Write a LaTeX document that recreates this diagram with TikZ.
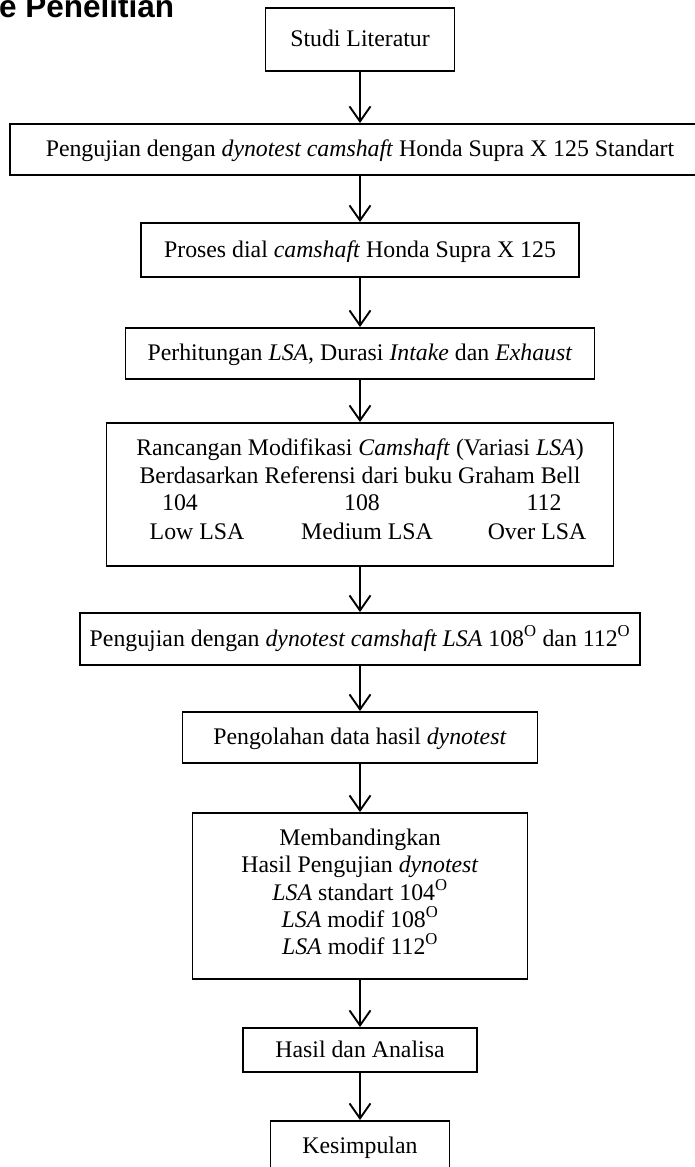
\documentclass[tikz,border=0pt]{standalone}
\usepackage{fontspec}
\setmainfont{Liberation Serif}
\newfontfamily\titlefont{Liberation Sans}
\usetikzlibrary{arrows.meta}
\tikzset{
  box/.style={draw, line width=1.9pt, inner sep=0pt, text height=17pt, text depth=3pt},
  plainbox/.style={draw, line width=1.9pt, inner sep=0pt},
  txt/.style={inner sep=0pt, anchor=base},
  arr/.style={line width=1.9pt, -{Straight Barb[length=15pt,width=21pt]}},
}
\begin{document}
\begin{tikzpicture}[x=1pt,y=-1pt,font=\fontsize{23.8pt}{27.4pt}\selectfont]
\useasboundingbox (0,0) rectangle (694,1167);
\node[anchor=base west, inner sep=0pt, font=\titlefont\bfseries\fontsize{31.5pt}{36pt}\selectfont] (title) at (-1,17.5) {e Penelitian};

\node[box, minimum width=189pt, minimum height=63pt] (b1) at (360,39.5) {Studi Literatur};
\node[box, minimum width=700pt, minimum height=51pt] (b2) at (360,149.5) {Pengujian dengan \textit{dynotest camshaft} Honda Supra X 125 Standart};
\node[box, minimum width=438pt, minimum height=54pt] (b3) at (360,250) {Proses dial \textit{camshaft} Honda Supra X 125};
\node[box, minimum width=469pt, minimum height=51pt] (b4) at (360,353.5) {Perhitungan \textit{LSA}, Durasi \textit{Intake} dan \textit{Exhaust}};

\node[plainbox, minimum width=507pt, minimum height=143pt] (b5) at (360,494.5) {};
\node[txt] (b5a) at (360,455) {Rancangan Modifikasi \textit{Camshaft} (Variasi \textit{LSA})};
\node[txt] (b5b) at (360,483) {Berdasarkan Referensi dari buku Graham Bell};
\node[txt] (b5c) at (180,510) {104};
\node[txt] (b5d) at (362,510) {108};
\node[txt] (b5e) at (544,510) {112};
\node[txt] (b5f) at (197,539) {Low LSA};
\node[txt] (b5g) at (367,539) {Medium LSA};
\node[txt] (b5h) at (537,539) {Over LSA};

\node[box, minimum width=560pt, minimum height=52pt] (b6) at (360,639) {Pengujian dengan \textit{dynotest camshaft LSA} 108\textsuperscript{O} dan 112\textsuperscript{O}};
\node[box, minimum width=355pt, minimum height=51pt] (b7) at (360,737.5) {Pengolahan data hasil \textit{dynotest}};

\node[plainbox, minimum width=335pt, minimum height=166pt] (b8) at (360,896) {};
\node[txt] (b8a) at (360,845) {Membandingkan};
\node[txt] (b8b) at (360,872) {Hasil Pengujian \textit{dynotest}};
\node[txt] (b8c) at (360,900) {\textit{LSA} standart 104\textsuperscript{O}};
\node[txt] (b8d) at (360,927) {\textit{LSA} modif 108\textsuperscript{O}};
\node[txt] (b8e) at (360,954) {\textit{LSA} modif 112\textsuperscript{O}};

\node[box, minimum width=234pt, minimum height=44pt] (b9) at (360,1050) {Hasil dan Analisa};
\node[box, minimum width=179pt, minimum height=51pt] (b10) at (360,1146.5) {Kesimpulan};

\draw[arr] (b1) -- (b2);
\draw[arr] (b2) -- (b3);
\draw[arr] (b3) -- (b4);
\draw[arr] (b4) -- (b5);
\draw[arr] (b5) -- (b6);
\draw[arr] (b6) -- (b7);
\draw[arr] (b7) -- (b8);
\draw[arr] (b8) -- (b9);
\draw[arr] (b9) -- (b10);
\end{tikzpicture}
\end{document}
